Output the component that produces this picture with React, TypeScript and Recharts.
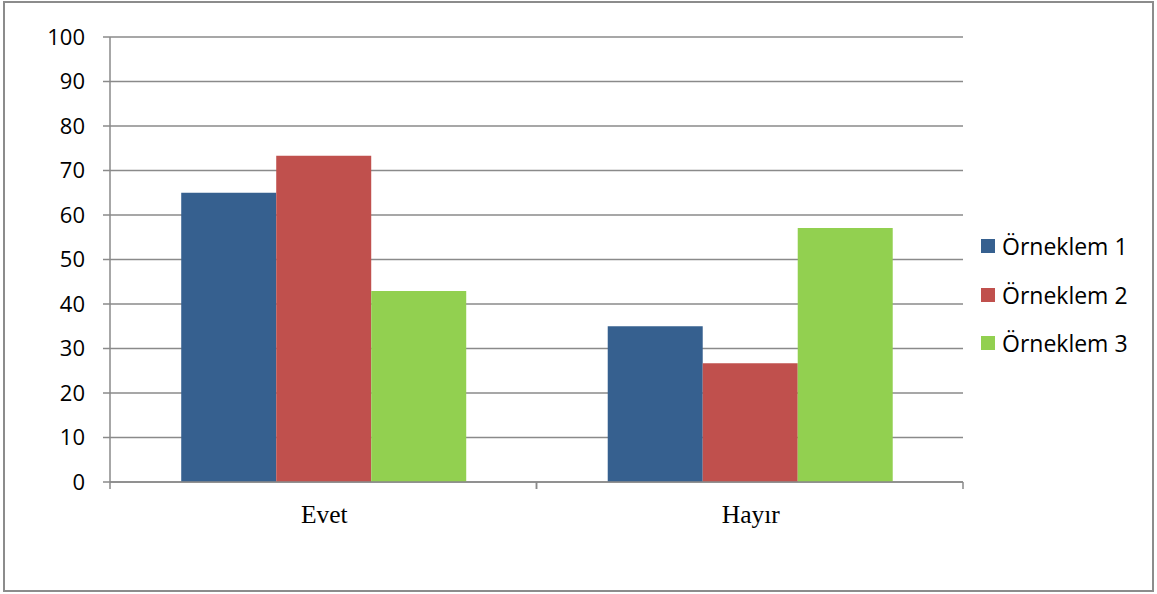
import React from 'react';
import { BarChart, Bar, XAxis, YAxis, CartesianGrid } from 'recharts';

const categories = ['Evet', 'Hayır'];
const seriesNames = ['Örneklem 1', 'Örneklem 2', 'Örneklem 3'];
const series1 = [65, 35];
const series2 = [73.3, 26.7];
const series3 = [42.9, 57.1];
const yTicks = [0, 10, 20, 30, 40, 50, 60, 70, 80, 90, 100];
const colors = ['#36608F', '#C0504D', '#92D050'];

const data = categories.map((c, i) => ({
  name: c,
  s1: series1[i],
  s2: series2[i],
  s3: series3[i],
}));
const keys = ['s1', 's2', 's3'];

const GRID = '#8A8A8A';

const XTick = (props: any) => {
  const { x, y, payload } = props;
  const off = payload && payload.offset ? payload.offset : 213;
  return (
    <g>
      <line x1={x - off} x2={x - off} y1={y} y2={y + 7} stroke={GRID} strokeWidth={1.5} />
      <line x1={x + off} x2={x + off} y1={y} y2={y + 7} stroke={GRID} strokeWidth={1.5} />
      <text
        x={x + 1}
        y={y + 41}
        textAnchor="middle"
        fontFamily="'Liberation Serif', 'Times New Roman', serif"
        fontSize={25.5}
        fill="#000"
      >
        {payload.value}
      </text>
    </g>
  );
};

export default function App() {
  return (
    <div style={{ position: 'absolute', left: 0, top: 0, width: 1157, height: 594, background: '#fff' }}>
      <div
        style={{
          position: 'absolute',
          left: 3,
          top: 1,
          width: 1151,
          height: 591,
          boxSizing: 'border-box',
          border: '2px solid #8C8C8C',
        }}
      />
      <div style={{ position: 'absolute', left: 0, top: 0 }}>
        <BarChart
          width={1157}
          height={594}
          data={data}
          margin={{ top: 37, right: 194, bottom: 0, left: 0 }}
          barCategoryGap="16.7%"
          barGap={0}
        >
          <CartesianGrid vertical={false} stroke={GRID} strokeWidth={1.5} />
          <XAxis
            dataKey="name"
            height={112}
            axisLine={{ stroke: GRID, strokeWidth: 1.5 }}
            tickLine={false}
            tickSize={0}
            tickMargin={0}
            interval={0}
            tick={<XTick />}
          />
          <YAxis
            width={110}
            domain={[0, 100]}
            ticks={yTicks}
            interval={0}
            tickSize={7}
            tickMargin={18}
            axisLine={{ stroke: GRID, strokeWidth: 1.5 }}
            tickLine={{ stroke: GRID, strokeWidth: 1.5 }}
            tick={{ fill: '#000', fontSize: 22, fontFamily: "'Open Sans', sans-serif" }}
          />
          {keys.map((k, i) => (
            <Bar key={k} dataKey={k} name={seriesNames[i]} fill={colors[i]} isAnimationActive={false} />
          ))}
        </BarChart>
      </div>
      <div style={{ position: 'absolute', left: 981, top: 222 }}>
        {seriesNames.map((n, i) => (
          <div key={n} style={{ display: 'flex', alignItems: 'center', height: 48.5 }}>
            <div style={{ width: 14, height: 14, background: colors[i], marginRight: 7 }} />
            <span style={{ fontFamily: "'Open Sans', sans-serif", fontSize: 23, color: '#000', whiteSpace: 'nowrap' }}>
              {n}
            </span>
          </div>
        ))}
      </div>
    </div>
  );
}
